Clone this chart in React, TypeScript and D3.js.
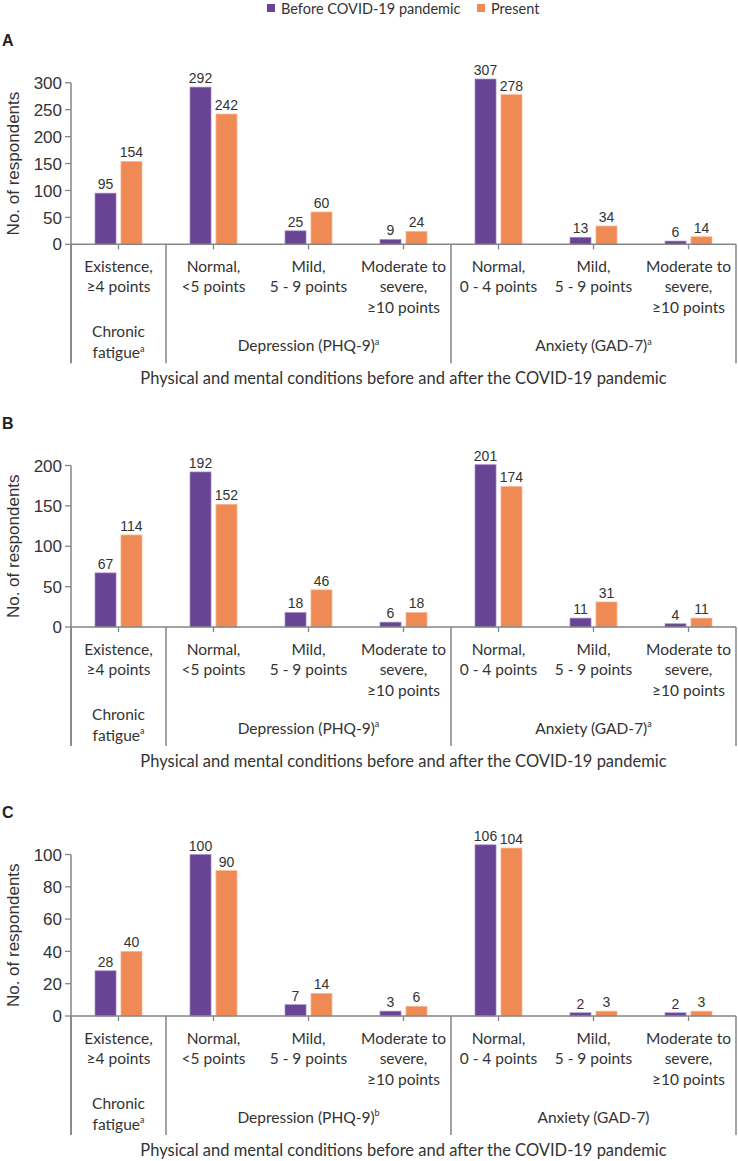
import React from "react";
import * as d3 from "d3";

const seriesNames = ["Before COVID-19 pandemic", "Present"];
const seriesKeys = ["before", "present"];
const colors = ["#6a4494", "#f08a55"];
const edgeColors = ["#a48cc4", "#f8b793"];

const categoryLines: string[][] = [
  ["Existence,", "≥4 points"],
  ["Normal,", "<5 points"],
  ["Mild,", "5 - 9 points"],
  ["Moderate to", "severe,", "≥10 points"],
  ["Normal,", "0 - 4 points"],
  ["Mild,", "5 - 9 points"],
  ["Moderate to", "severe,", "≥10 points"],
];

const groupLabels: string[][] = [["Chronic", "fatigue"], ["Depression (PHQ-9)"], ["Anxiety (GAD-7)"]];
const groupSpans: [number, number][] = [[0, 0], [1, 3], [4, 6]];

const panelLetters = ["A", "B", "C"];
const panelSups = [["a", "a", "a"], ["a", "a", "a"], ["a", "b", ""]];
const panelMax = [300, 200, 100];
const panelStep = [50, 50, 20];

const beforeA = [95, 292, 25, 9, 307, 13, 6];
const presentA = [154, 242, 60, 24, 278, 34, 14];
const beforeB = [67, 192, 18, 6, 201, 11, 4];
const presentB = [114, 152, 46, 18, 174, 31, 11];
const beforeC = [28, 100, 7, 3, 106, 2, 2];
const presentC = [40, 90, 14, 6, 104, 3, 3];

const panelData = [
  [beforeA, presentA],
  [beforeB, presentB],
  [beforeC, presentC],
];

const xTitle = "Physical and mental conditions before and after the COVID-19 pandemic";
const yTitle = "No. of respondents";

const W = 738;
const H = 1161;
const baselines = [244.3, 627, 1016];
const AX_LEFT = 71;
const AX_RIGHT = 736;
const PLOT_H = 161.5;
const axisColor = "#858585";
const textColor = "#333333";
const numFont = "'Liberation Sans', Arial, sans-serif";
const labFont = "Lato, sans-serif";

function Panel({ idx }: { idx: number }) {
  const b = baselines[idx];
  const max = panelMax[idx];
  const y = d3.scaleLinear().domain([0, max]).range([b, b - PLOT_H]);
  const ticks = d3.range(0, max + 1, panelStep[idx]);
  const x = d3
    .scaleBand<number>()
    .domain(d3.range(categoryLines.length))
    .range([AX_LEFT, AX_RIGHT]);
  const xi = d3.scaleBand<string>().domain(seriesKeys).range([0, 47]).paddingInner(0.19);
  const [before, present] = panelData[idx];
  const series = [before, present];
  const sups = panelSups[idx];
  const sepXs = [AX_LEFT, x(1)!, x(4)!, AX_RIGHT];
  return (
    <g>
      <text x={2} y={b - 204} dy="0.36em" fontFamily={numFont} fontWeight="bold" fontSize={16} fill="#222">
        {panelLetters[idx]}
      </text>
      {/* bars */}
      {series.map((vals, si) =>
        vals.map((v, ci) => {
          const cx = x(ci)! + x.bandwidth() / 2;
          const bx = cx - 23.5 + xi(seriesKeys[si])!;
          const top = y(v);
          return (
            <g key={`${si}-${ci}`}>
              <rect
                x={bx}
                y={top}
                width={xi.bandwidth()}
                height={b - top}
                fill={colors[si]}
                stroke={edgeColors[si]}
                strokeWidth={0.7}
              />
              <text
                x={bx + xi.bandwidth() / 2}
                y={top - 4}
                textAnchor="middle"
                fontFamily={numFont}
                fontSize={14}
                fill={textColor}
              >
                {v}
              </text>
            </g>
          );
        })
      )}
      {/* y axis */}
      <line x1={AX_LEFT} x2={AX_LEFT} y1={y(max)} y2={b + 119} stroke={axisColor} strokeWidth={1.5} />
      {ticks.map((t) => (
        <g key={t}>
          <line x1={AX_LEFT - 6} x2={AX_LEFT} y1={y(t)} y2={y(t)} stroke={axisColor} strokeWidth={1.3} />
          <text
            x={AX_LEFT - 9}
            y={y(t)}
            dy="0.36em"
            textAnchor="end"
            fontFamily={numFont}
            fontSize={17}
            fill={textColor}
          >
            {t}
          </text>
        </g>
      ))}
      <text
        transform={`translate(13,${b - PLOT_H / 2}) rotate(-90)`}
        textAnchor="middle"
        dy="0.36em"
        fontFamily={numFont}
        fontSize={17}
        fill={textColor}
      >
        {yTitle}
      </text>
      {/* x baseline */}
      <line x1={AX_LEFT} x2={AX_RIGHT} y1={b} y2={b} stroke={axisColor} strokeWidth={1.5} />
      {sepXs.map((sx, i) => (
        <line key={i} x1={sx} x2={sx} y1={b} y2={b + 119} stroke={axisColor} strokeWidth={1.5} />
      ))}
      {categoryLines.map((lines, ci) => {
        const cx = x(ci)! + x.bandwidth() / 2;
        return (
          <g key={ci}>
            <line x1={cx} x2={cx} y1={b} y2={b + 5} stroke={axisColor} strokeWidth={1.3} />
            {lines.map((ln, li) => (
              <text
                key={li}
                x={cx}
                y={b + 22 + li * 20.5}
                dy="0.36em"
                textAnchor="middle"
                fontFamily={labFont}
                fontSize={15.5}
                fill={textColor}
              >
                {ln}
              </text>
            ))}
          </g>
        );
      })}
      {groupLabels.map((lines, gi) => {
        const [s, e] = groupSpans[gi];
        const cx = (x(s)! + x(e)! + x.bandwidth()) / 2;
        const startY = lines.length === 1 ? b + 101 : b + 87;
        return lines.map((ln, li) => {
          const last = li === lines.length - 1;
          return (
            <text
              key={`${gi}-${li}`}
              x={cx}
              y={startY + li * 21}
              dy="0.36em"
              textAnchor="middle"
              fontFamily={labFont}
              fontSize={15.5}
              fill={textColor}
            >
              {ln}
              {last && sups[gi] ? (
                <tspan fontSize={9} dy="-0.7em">
                  {sups[gi]}
                </tspan>
              ) : null}
            </text>
          );
        });
      })}
      <text
        x={(AX_LEFT + AX_RIGHT) / 2}
        y={b + 134}
        dy="0.36em"
        textAnchor="middle"
        fontFamily={labFont}
        fontSize={16.5}
        fill={textColor}
      >
        {xTitle}
      </text>
    </g>
  );
}

export default function App() {
  const legendX = [267, 477];
  return (
    <svg
      width={W}
      height={H}
      viewBox={`0 0 ${W} ${H}`}
      style={{ position: "absolute", left: 0, top: 0, background: "#fff" }}
    >
      <rect width={W} height={H} fill="#fff" />
      {seriesNames.map((n, i) => (
        <g key={n}>
          <rect x={legendX[i]} y={4} width={8} height={8} fill={colors[i]} />
          <text
            x={legendX[i] + 14}
            y={9}
            dy="0.36em"
            fontFamily={labFont}
            fontSize={14.5}
            fill={textColor}
          >
            {n}
          </text>
        </g>
      ))}
      {[0, 1, 2].map((i) => (
        <Panel key={i} idx={i} />
      ))}
    </svg>
  );
}
